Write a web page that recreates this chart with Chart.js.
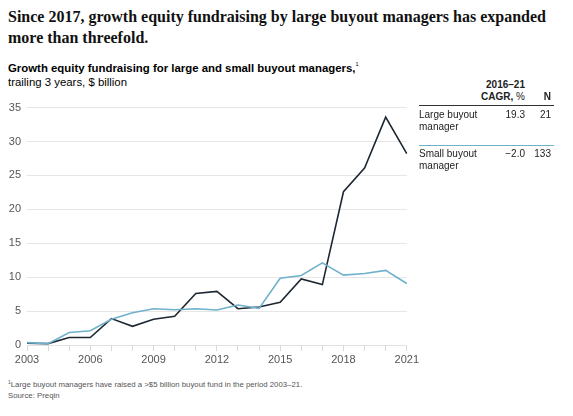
<!DOCTYPE html>
<html>
<head>
<meta charset="utf-8">
<script src="https://cdn.jsdelivr.net/npm/chart.js@4"></script>
<style>
  body { margin: 0; width: 573px; height: 416px; background: #fff; position: relative; overflow: hidden; font-family: "Liberation Sans", Arial, sans-serif; color: #000; }
  .title { position: absolute; left: 8px; top: 6px; width: 565px; font-family: "Liberation Serif", serif; font-weight: bold; font-size: 16px; line-height: 21px; color: #111; }
  .sub { position: absolute; left: 8px; top: 57px; font-size: 11.4px; line-height: 14px; }
  .sub b { font-weight: bold; }
  .sub sup { font-size: 5.5px; vertical-align: 6px; }
  #wrap { position: absolute; left: 0; top: 95px; width: 421px; height: 275px; }
  .tbl { position: absolute; font-size: 10px; line-height: 12px; color: #222; }
  .hdr { font-weight: bold; text-align: right; }
  .rule { position: absolute; height: 0; }
  .foot { position: absolute; left: 8px; top: 377px; font-size: 7.8px; line-height: 11px; color: #555; }
  .foot sup { font-size: 5px; vertical-align: 3px; }
</style>
</head>
<body>
<div class="title">Since 2017, growth equity fundraising by large buyout managers has expanded more than threefold.</div>
<div class="sub"><b>Growth equity fundraising for large and small buyout managers,</b><sup>1</sup><br>trailing 3 years, $ billion</div>

<div id="wrap"><canvas id="chart"></canvas></div>

<div class="tbl hdr" style="left:440px; top:79px; width:85px;">2016–21<br>CAGR, <span style="font-weight:normal">%</span></div>
<div class="tbl hdr" style="left:530px; top:91px; width:21px;">N</div>
<div class="rule" style="left:419px; top:105px; width:135px; border-top:1px solid #333;"></div>
<div class="tbl" style="left:419px; top:109px;">Large buyout<br>manager</div>
<div class="tbl" style="left:480px; top:109px; width:45px; text-align:right;">19.3</div>
<div class="tbl" style="left:520px; top:109px; width:31px; text-align:right;">21</div>
<div class="rule" style="left:419px; top:145px; width:135px; border-top:1px solid #6fb1cb;"></div>
<div class="tbl" style="left:419px; top:148px;">Small buyout<br>manager</div>
<div class="tbl" style="left:480px; top:148px; width:45px; text-align:right;">−2.0</div>
<div class="tbl" style="left:520px; top:148px; width:31px; text-align:right;">133</div>

<div class="foot"><sup>1</sup>Large buyout managers have raised a &gt;$5 billion buyout fund in the period 2003–21.<br>Source: Preqin</div>

<script>
// Años del eje x
const years = [2003, 2004, 2005, 2006, 2007, 2008, 2009, 2010, 2011, 2012,
  2013, 2014, 2015, 2016, 2017, 2018, 2019, 2020, 2021];

// Valores, $ mil millones
const largeManagers = [0.25, 0.2, 1.1, 1.1, 3.9, 2.75, 3.8, 4.25, 7.6, 7.9,
  5.35, 5.6, 6.3, 9.75, 8.9, 22.6, 26.1, 33.6, 28.2];
const smallManagers = [0.35, 0.2, 1.85, 2.1, 3.8, 4.75, 5.35, 5.2, 5.35, 5.15,
  5.9, 5.4, 9.85, 10.25, 12.1, 10.3, 10.55, 11.0, 9.07];

// Etiquetas del eje y
const yTicks = [0, 5, 10, 15, 20, 25, 30, 35];

const ctx = document.getElementById("chart").getContext("2d");
new Chart(ctx, {
  type: "line",
  data: {
    labels: years,
    datasets: [
      {
        label: "Small buyout manager",
        data: smallManagers,
        borderColor: "#6fb1cb",
        borderWidth: 1.6,
        pointRadius: 0,
        tension: 0,
      },
      {
        label: "Large buyout manager",
        data: largeManagers,
        borderColor: "#1e2832",
        borderWidth: 1.6,
        pointRadius: 0,
        tension: 0,
      },
    ],
  },
  options: {
    responsive: true,
    maintainAspectRatio: false,
    animation: false,
    layout: { padding: { top: 6, right: 0, left: 0, bottom: 0 } },
    plugins: {
      legend: { display: false },
      tooltip: { enabled: false },
    },
    scales: {
      x: {
        offset: false,
        grid: { drawOnChartArea: false, drawTicks: true, tickLength: 6, color: "#d9d9d9" },
        border: { display: true, color: "#e2e2e2" },
        ticks: {
          autoSkip: false,
          maxRotation: 0,
          padding: 2,
          color: "#555",
          font: { size: 11, family: "Liberation Sans" },
          callback: function (value, index) {
            return (years[index] - 2003) % 3 === 0 ? String(years[index]) : "";
          },
        },
        afterFit: (s) => { s.height = 25; },
      },
      y: {
        min: 0,
        max: 35,
        afterBuildTicks: (s) => { s.ticks = yTicks.map((v) => ({ value: v })); },
        grid: { drawTicks: false, color: "#e6e6e6" },
        border: { display: false },
        ticks: {
          padding: 6,
          color: "#555",
          font: { size: 11, family: "Liberation Sans" },
        },
        afterFit: (s) => { s.width = 27; },
      },
    },
  },
});
</script>
</body>
</html>
